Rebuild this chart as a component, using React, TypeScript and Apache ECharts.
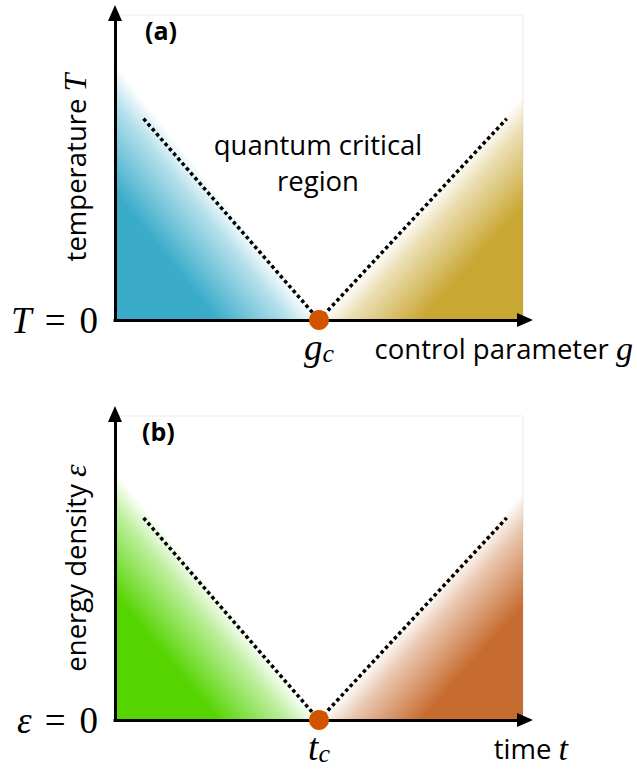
import React, { useEffect, useRef } from "react";
import * as echarts from "echarts";

const SANS = "'Open Sans', 'DejaVu Sans', sans-serif";
const SERIF = "'Liberation Serif', 'DejaVu Serif', serif";

// shared axis domain
const xDomain = [0, 1];
const yDomain = [0, 1];
const criticalX = 0.5;

// panel (a): quantum phase diagram
const leftRegionA = [[0, 0], [0, 0.84], [0.5, 0]];
const rightRegionA = [[0.5, 0], [1, 0], [1, 0.74]];
const crossoverLeftA = [[0.07, 0.66], [0.5, 0]];
const crossoverRightA = [[0.5, 0], [0.96, 0.66]];
const criticalPointA = [[0.5, 0]];

// panel (b): dynamical analogue
const leftRegionB = [[0, 0], [0, 0.82], [0.5, 0]];
const rightRegionB = [[0.5, 0], [1, 0], [1, 0.75]];
const crossoverLeftB = [[0.07, 0.665], [0.5, 0]];
const crossoverRightB = [[0.5, 0], [0.96, 0.665]];
const criticalPointB = [[0.5, 0]];

const COLORS = {
  blue: "58,172,202",
  gold: "201,167,51",
  green: "85,212,0",
  brown: "199,108,48",
  dot: "#d35400",
};

function regionSeries(gridIdx: number, verts: number[][], cornerIdx: number, rgb: string) {
  return {
    type: "custom",
    xAxisIndex: gridIdx,
    yAxisIndex: gridIdx,
    silent: true,
    clip: false,
    z: 1,
    data: [verts[cornerIdx]],
    renderItem: (_params: any, api: any) => {
      const pts = verts.map((v) => api.coord(v));
      const c = pts[cornerIdx];
      const others = pts.filter((_p, i) => i !== cornerIdx);
      const p = others[0];
      const q = others[1];
      const dx = q[0] - p[0];
      const dy = q[1] - p[1];
      const t = ((c[0] - p[0]) * dx + (c[1] - p[1]) * dy) / (dx * dx + dy * dy);
      const f = [p[0] + t * dx, p[1] + t * dy];
      return {
        type: "polygon",
        shape: { points: pts },
        style: {
          fill: new echarts.graphic.LinearGradient(
            f[0], f[1], c[0], c[1],
            [
              { offset: 0, color: `rgba(${rgb},0)` },
              { offset: 0.15, color: `rgba(${rgb},0.38)` },
              { offset: 0.5, color: `rgba(${rgb},1)` },
              { offset: 1, color: `rgba(${rgb},1)` },
            ],
            true
          ),
        },
      };
    },
  };
}

function dottedSeries(gridIdx: number, data: number[][]) {
  return {
    type: "line",
    xAxisIndex: gridIdx,
    yAxisIndex: gridIdx,
    data,
    symbol: "none",
    silent: true,
    z: 2,
    lineStyle: { color: "#000", width: 3.5, type: [3.5, 3] },
  };
}

function pointSeries(gridIdx: number, data: number[][]) {
  return {
    type: "scatter",
    xAxisIndex: gridIdx,
    yAxisIndex: gridIdx,
    data,
    symbolSize: 20,
    clip: false,
    silent: true,
    z: 5,
    itemStyle: { color: COLORS.dot, opacity: 1 },
  };
}

const mathRich = (size: number) => ({
  s: { fontFamily: SANS, fontSize: 27.5, color: "#000" },
  m: { fontFamily: SERIF, fontStyle: "italic", fontSize: size, color: "#000" },
});

function xAxisFor(gridIdx: number, sym: string, name: string, gap: number) {
  return {
    type: "value",
    gridIndex: gridIdx,
    min: xDomain[0],
    max: xDomain[1],
    interval: 0.5,
    z: 3,
    axisLine: {
      onZero: false,
      symbol: ["none", "triangle"],
      symbolSize: [14, 16],
      symbolOffset: [0, 2],
      lineStyle: { color: "#000", width: 3, cap: "square" },
    },
    axisTick: { show: false },
    splitLine: { show: false },
    axisLabel: {
      margin: 9,
      formatter: (v: number) => (v === criticalX ? `{m|${sym}}{c|c}` : ""),
      rich: {
        m: { fontFamily: SERIF, fontStyle: "italic", fontSize: 37, color: "#000" },
        c: { fontFamily: SERIF, fontStyle: "italic", fontSize: 26, color: "#000", lineHeight: 12, verticalAlign: "bottom" },
      },
    },
    name,
    nameLocation: "end",
    nameGap: gap,
    nameMoveOverlap: false,
    nameTextStyle: {
      align: "right",
      verticalAlign: "top",
      padding: [11, 0, 0, 0],
      rich: mathRich(34),
    },
  };
}

function yAxisFor(gridIdx: number, sym: string, name: string) {
  return {
    type: "value",
    gridIndex: gridIdx,
    min: yDomain[0],
    max: yDomain[1],
    interval: 1,
    z: 3,
    axisLine: {
      onZero: false,
      symbol: ["none", "triangle"],
      symbolSize: [14, 16],
      symbolOffset: [0, 2],
      lineStyle: { color: "#000", width: 3, cap: "square" },
    },
    axisTick: { show: false },
    splitLine: { show: false },
    axisLabel: {
      margin: 17,
      formatter: (v: number) => (v === 0 ? `{m|${sym}}{e|=}{n|0}` : ""),
      rich: {
        m: { fontFamily: SERIF, fontStyle: "italic", fontSize: 37, color: "#000" },
        e: { fontFamily: SERIF, fontSize: 37, color: "#000", padding: [0, 14, 0, 13] },
        n: { fontFamily: SERIF, fontSize: 37, color: "#000" },
      },
    },
    name,
    nameLocation: "middle",
    nameRotate: 90,
    nameGap: 24,
    nameMoveOverlap: false,
    nameTextStyle: { rich: mathRich(32) },
  };
}

export default function App() {
  const ref = useRef<HTMLDivElement>(null);
  useEffect(() => {
    if (!ref.current) return;
    const chart = echarts.init(ref.current, null, { renderer: "svg" });
    chart.setOption({
      animation: false,
      backgroundColor: "#fff",
      title: [
        { text: "(a)", left: 145, top: 17, padding: 0, textStyle: { fontFamily: SANS, fontWeight: "bold", fontSize: 25, color: "#000" } },
        { text: "(b)", left: 142, top: 418, padding: 0, textStyle: { fontFamily: SANS, fontWeight: "bold", fontSize: 25, color: "#000" } },
      ],
      grid: [
        { left: 115, top: 15, width: 408, height: 305, containLabel: false, outerBoundsMode: "none", show: true, borderColor: "#ebebeb", borderWidth: 1, backgroundColor: "transparent" },
        { left: 115, top: 416, width: 408, height: 304, containLabel: false, outerBoundsMode: "none", show: true, borderColor: "#ebebeb", borderWidth: 1, backgroundColor: "transparent" },
      ],
      xAxis: [
        xAxisFor(0, "g", "{s|control parameter }{m|g}", 110),
        xAxisFor(1, "t", "{s|time }{m|t}", 45),
      ],
      yAxis: [
        yAxisFor(0, "T", "{s|temperature }{m|T}"),
        yAxisFor(1, "ε", "{s|energy density }{m|ε}"),
      ],
      graphic: [
        {
          type: "text",
          left: 208,
          top: 126,
          silent: true,
          style: {
            text: "quantum critical\nregion",
            fontFamily: SANS,
            fontSize: 27.5,
            lineHeight: 36,
            textAlign: "center",
            fill: "#000",
            width: 220,
          },
        },
      ],
      series: [
        regionSeries(0, leftRegionA, 0, COLORS.blue),
        regionSeries(0, rightRegionA, 1, COLORS.gold),
        dottedSeries(0, crossoverLeftA),
        dottedSeries(0, crossoverRightA),
        pointSeries(0, criticalPointA),
        regionSeries(1, leftRegionB, 0, COLORS.green),
        regionSeries(1, rightRegionB, 1, COLORS.brown),
        dottedSeries(1, crossoverLeftB),
        dottedSeries(1, crossoverRightB),
        pointSeries(1, criticalPointB),
      ],
    });
    return () => chart.dispose();
  }, []);
  return (
    <div
      ref={ref}
      style={{ position: "absolute", left: 0, top: 0, width: 637, height: 772 }}
    />
  );
}
